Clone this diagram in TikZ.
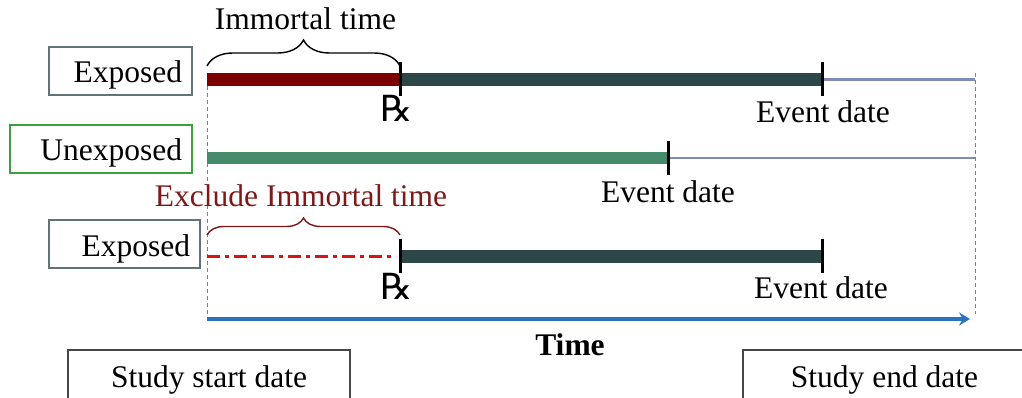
\documentclass[tikz,border=0pt]{standalone}
\usepackage{fontspec}
\setmainfont{Liberation Serif}
\newfontfamily\rxfont{DejaVu Sans}
\usetikzlibrary{arrows.meta,decorations.pathreplacing}

\definecolor{immred}{RGB}{123,0,0}
\definecolor{exposedbar}{RGB}{45,70,72}
\definecolor{unexpbar}{RGB}{70,138,108}
\definecolor{followup}{RGB}{130,138,182}
\definecolor{cutred}{RGB}{214,20,20}
\definecolor{timeblue}{RGB}{40,116,190}
\definecolor{expframe}{RGB}{95,115,120}
\definecolor{unexpframe}{RGB}{60,160,60}
\definecolor{studyframe}{RGB}{70,70,70}
\definecolor{bracered}{RGB}{125,25,25}
\definecolor{guide}{RGB}{130,130,130}

\begin{document}
\begin{tikzpicture}[x=1pt,y=-1pt,
  every node/.style={font=\fontsize{31.5}{36}\selectfont},
  groupbox/.style={draw, line width=1.2pt, minimum height=48pt,
    inner xsep=10pt, inner ysep=0pt, align=right, text height=24pt, text depth=0pt},
  studybox/.style={draw=studyframe, line width=1.2pt, minimum height=60pt, inner sep=0pt},
  rxmark/.style={anchor=base, font=\fontsize{36}{40}\rxfont},
  timebar/.style={line width=12.5pt},
  eventtick/.style={line width=3pt, black},
  followline/.style={followup, line width=2.5pt},
  guideline/.style={guide, line width=0.9pt, dash pattern=on 4pt off 3pt},
  spanbrace/.style={decorate, decoration={brace, amplitude=#1}, line width=1.4pt},
  cutline/.style={cutred, line width=3.5pt, dash pattern=on 13pt off 5pt on 4pt off 5pt},
  timearrow/.style={timeblue, line width=3.8pt, -{Stealth[length=11pt,width=13pt,inset=4pt]}}
]
\useasboundingbox (0,0) rectangle (1022,398);

% group labels
\node[groupbox, draw=expframe, text width=123pt] (grpA) at (120.5,71) {Exposed};
\node[groupbox, draw=unexpframe, text width=162pt] (grpB) at (101,149) {Unexposed};
\node[groupbox, draw=expframe, text width=131pt] (grpC) at (124.5,244) {Exposed};

% timeline points
\coordinate (a0) at (207,79.5);
\coordinate (a1) at (400,79.5);
\coordinate (a2) at (822,79.5);
\coordinate (a3) at (975,79.5);
\coordinate (b0) at (207,158);
\coordinate (b1) at (668,158);
\coordinate (b3) at (975,158);
\coordinate (c0) at (207,256.5);
\coordinate (c1) at (400,256.5);
\coordinate (c2) at (822,256.5);
\coordinate (g0) at (207,86);
\coordinate (g0e) at (207,314);
\coordinate (g3) at (975,73);
\coordinate (g3e) at (975,314);
\coordinate (t0) at (207,319);
\coordinate (t1) at (970,319);

% study start / end guides
\draw[guideline] (g0) -- (g0e);
\draw[guideline] (g3) -- (g3e);

% exposed, immortal time counted
\draw[timebar, immred] (a0) -- (a1);
\draw[timebar, exposedbar] (a1) -- (a2);
\draw[followline] (a2) -- (a3);
\draw[eventtick] ([yshift=17pt]a1) -- ([yshift=-17pt]a1);
\draw[eventtick] ([yshift=17pt]a2) -- ([yshift=-17pt]a2);

% unexposed
\draw[timebar, unexpbar] (b0) -- (b1);
\draw[followline] (b1) -- (b3);
\draw[eventtick] ([yshift=17pt]b1) -- ([yshift=-17pt]b1);

% exposed, immortal time excluded
\draw[cutline] (c0) -- ([xshift=-4pt]c1);
\draw[timebar, exposedbar] (c1) -- (c2);
\draw[eventtick] ([yshift=18pt]c1) -- ([yshift=-16pt]c1);
\draw[eventtick] ([yshift=18pt]c2) -- ([yshift=-16pt]c2);

% braces
\draw[spanbrace=26pt] ([yshift=13.5pt]a0) -- ([yshift=13.5pt]a1);
\draw[spanbrace=17pt, bracered] ([yshift=21.5pt]c0) -- ([yshift=21.5pt]c1);

% time axis
\draw[timearrow] (t0) -- (t1);

% labels
\node[anchor=base] (imm) at (305.5,30) {Immortal time};
\node[anchor=base, text=bracered] (excl) at (301,207) {Exclude Immortal time};
\node[rxmark] (rxA) at (397,122) {℞};
\node[anchor=base] (evA) at (823,123) {Event date};
\node[anchor=base] (evB) at (668,203) {Event date};
\node[rxmark] (rxC) at (397,299) {℞};
\node[anchor=base] (evC) at (821,298) {Event date};
\node[anchor=base, font=\fontsize{31.5}{36}\selectfont\bfseries] (timelbl) at (570,355) {Time};

% study period boxes
\node[studybox, minimum width=282pt] (start) at (209,380) {Study start date};
\node[studybox, minimum width=283pt] (end) at (884.5,380) {Study end date};
\end{tikzpicture}
\end{document}
